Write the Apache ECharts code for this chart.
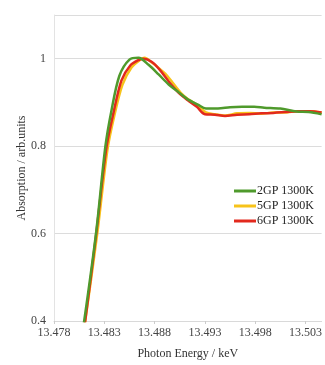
<!DOCTYPE html>
<html><head><meta charset="utf-8">
<script src="https://cdn.jsdelivr.net/npm/echarts@6/dist/echarts.min.js"></script>
<style>html,body{margin:0;padding:0;background:#fff}#c{width:325px;height:365px}</style>
</head><body><div id="c"></div>
<script>
const E0 = 13.478; // keV, axis origin
const xTickLabels = ['13.478','13.483','13.488','13.493','13.498','13.503'];
const yTickLabels = ['0.4','0.6','0.8','1'];
const seriesNames = ['2GP 1300K','5GP 1300K','6GP 1300K'];
const energy2GP = [13.4805,13.4810,13.4822,13.4831,13.4837,13.4845,13.4855,13.4864,13.4874,13.4884,13.4894,13.4904,13.4913,13.4923,13.4931,13.4943,13.4955,13.4967,13.4979,13.4989,13.5005,13.5021,13.5033,13.5046];
const abs2GP    = [0.33,0.40,0.605,0.798,0.880,0.961,0.998,1.002,0.986,0.964,0.941,0.923,0.907,0.895,0.886,0.886,0.889,0.890,0.890,0.888,0.886,0.879,0.878,0.873];
const energy5GP = [13.4806,13.4811,13.4823,13.4833,13.4840,13.4848,13.4857,13.4866,13.4870,13.4878,13.4886,13.4891,13.4898,13.4906,13.4913,13.4923,13.4931,13.4940,13.4950,13.4962,13.4974,13.4986,13.4998,13.5010,13.5022,13.5034,13.5046];
const abs5GP    = [0.33,0.40,0.60,0.79,0.87,0.94,0.98,0.998,1.002,0.99,0.975,0.965,0.945,0.922,0.908,0.893,0.877,0.873,0.870,0.875,0.876,0.874,0.877,0.877,0.880,0.880,0.877];
const energy6GP = [13.4806,13.4811,13.4822,13.4832,13.4839,13.4847,13.4856,13.4864,13.4869,13.4877,13.4885,13.4894,13.4904,13.4913,13.4922,13.4930,13.4940,13.4950,13.4962,13.4974,13.4986,13.4998,13.5010,13.5022,13.5034,13.5046];
const abs6GP    = [0.33,0.40,0.60,0.795,0.875,0.95,0.985,0.997,1.0,0.993,0.975,0.948,0.922,0.905,0.89,0.873,0.872,0.869,0.872,0.873,0.875,0.876,0.878,0.880,0.880,0.877];

function pts(xs, ys){ return xs.map((x,i)=>[(x-E0)*1000, ys[i]]); }
const font = 'Liberation Serif, Times New Roman, serif';
const chart = echarts.init(document.getElementById('c'));
chart.setOption({
  animation:false,
  backgroundColor:'#fff',
  grid:{left:54,right:0,top:15,bottom:42},
  legend:{
    orient:'vertical', left:229, top:180, itemWidth:22, itemHeight:3, itemGap:3,
    icon:'rect',
    textStyle:{fontFamily:font,fontSize:12,color:'#222',padding:[0,0,0,-4]},
    data:seriesNames
  },
  xAxis:{
    type:'value', min:0, max:26.6, interval:5,
    name:'Photon Energy / keV', nameLocation:'middle', nameGap:27,
    nameTextStyle:{fontFamily:font,fontSize:12,color:'#333'},
    axisLine:{show:true,lineStyle:{color:'#d9d9d9'}},
    axisTick:{show:true,length:3,lineStyle:{color:'#ccc'}},
    axisLabel:{fontFamily:font,fontSize:12,color:'#444',margin:6,showMaxLabel:false,
      formatter:v=>{const i=Math.round(v/5);return xTickLabels[i]||'';}},
    splitLine:{show:false}
  },
  yAxis:{
    type:'value', min:0.4, max:1.1, interval:0.2,
    name:'Absorption / arb.units', nameLocation:'middle', nameGap:26, nameMoveOverlap:false,
    nameTextStyle:{fontFamily:font,fontSize:12,color:'#333'},
    axisLine:{show:true,lineStyle:{color:'#e3e3e3'}},
    axisTick:{show:false},
    axisLabel:{fontFamily:font,fontSize:12,color:'#444',margin:8,showMaxLabel:false,
      formatter:v=>{const i=Math.round((v-0.4)/0.2);return yTickLabels[i]||'';}},
    splitLine:{show:true,lineStyle:{color:'#dcdcdc',width:1}}
  },
  series:[
    {name:seriesNames[0],type:'line',data:pts(energy2GP,abs2GP),showSymbol:false,smooth:0.3,z:4,
      lineStyle:{width:2.5,color:'#4f9a2c'},itemStyle:{color:'#4f9a2c'},clip:true},
    {name:seriesNames[1],type:'line',data:pts(energy5GP,abs5GP),showSymbol:false,smooth:0.3,z:2,
      lineStyle:{width:2.5,color:'#f7c31a'},itemStyle:{color:'#f7c31a'},clip:true},
    {name:seriesNames[2],type:'line',data:pts(energy6GP,abs6GP),showSymbol:false,smooth:0.3,z:3,
      lineStyle:{width:2.5,color:'#e2291d'},itemStyle:{color:'#e2291d'},clip:true}
  ]
});
</script></body></html>
